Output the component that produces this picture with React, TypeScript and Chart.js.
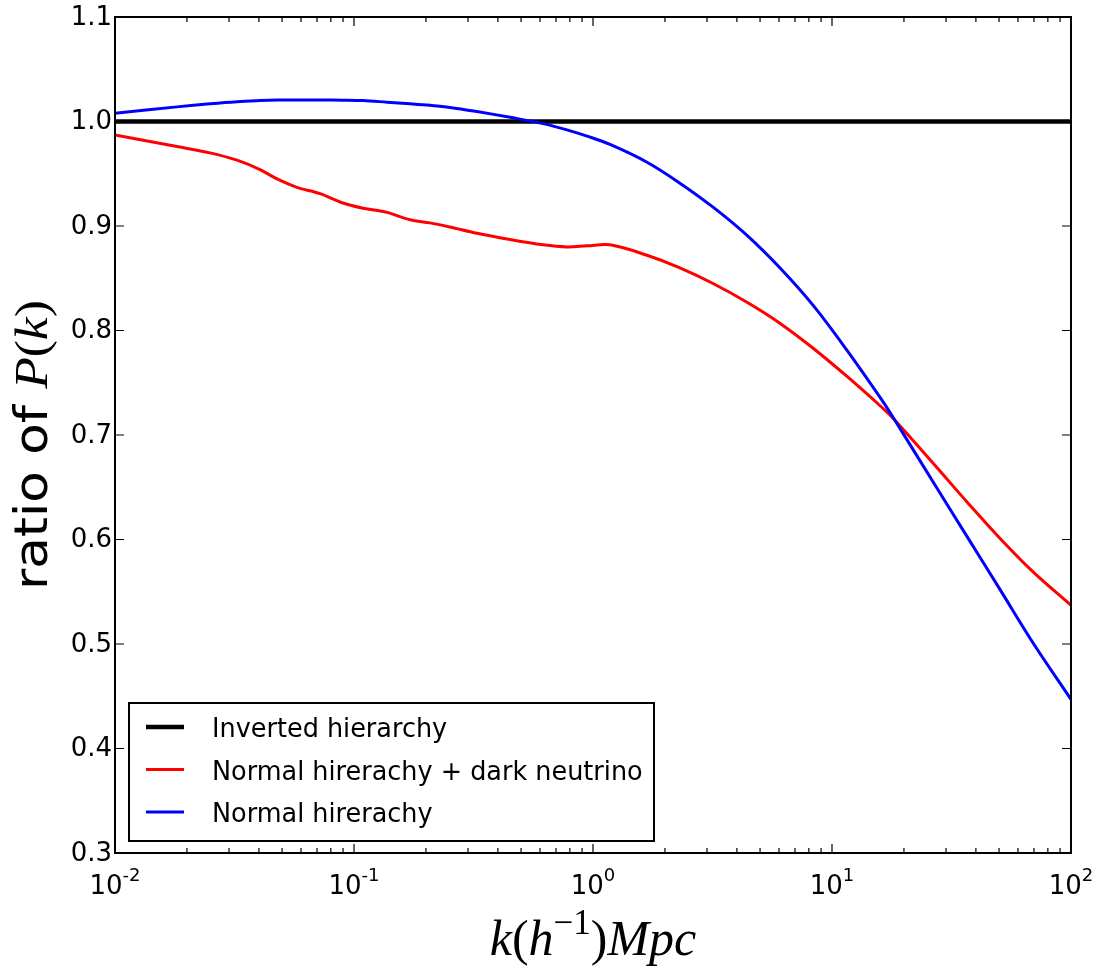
import React, { useEffect, useRef } from "react";
import { Chart, registerables } from "chart.js";

Chart.register(...registerables);

// ---------------- data ----------------
const kValues = [
  0.01, 0.01816, 0.02497, 0.03239, 0.04045, 0.04766, 0.0577, 0.0721, 0.0899,
  0.1091, 0.1374, 0.1715, 0.208, 0.252, 0.327, 0.45, 0.618, 0.778, 0.944,
  1.178, 1.683, 2.31, 3.18, 4.41, 6.05, 8.34, 11.56, 15.89, 18.0, 26.5, 36.7,
  50.5, 69.4, 100,
];

const normalDarkRatio = [
  0.987, 0.976, 0.97, 0.963, 0.954, 0.945, 0.937, 0.931, 0.922, 0.917, 0.913,
  0.906, 0.903, 0.899, 0.893, 0.887, 0.882, 0.88, 0.881, 0.882, 0.872, 0.86,
  0.845, 0.827, 0.807, 0.783, 0.756, 0.728, 0.716, 0.673, 0.636, 0.601, 0.569,
  0.537,
];

const normalRatio = [
  1.008, 1.014, 1.017, 1.019, 1.02, 1.0205, 1.0206, 1.0206, 1.0204, 1.02,
  1.0185, 1.017, 1.0155, 1.0135, 1.0095, 1.004, 0.998, 0.992, 0.986, 0.978,
  0.961, 0.941, 0.918, 0.891, 0.86, 0.824, 0.781, 0.736, 0.717, 0.655, 0.603,
  0.552, 0.501, 0.447,
];

const invertedK = [0.01, 100];
const invertedRatio = [1.0, 1.0];

const seriesLabels = [
  "Inverted hierarchy",
  "Normal hirerachy + dark neutrino",
  "Normal hirerachy",
];

const yTickValues = [0.3, 0.4, 0.5, 0.6, 0.7, 0.8, 0.9, 1.0, 1.1];
const yTickLabels = ["0.3", "0.4", "0.5", "0.6", "0.7", "0.8", "0.9", "1.0", "1.1"];
const xTickExponents = [-2, -1, 0, 1, 2];
const xTickExponentLabels = ["-2", "-1", "0", "1", "2"];

// ---------------- drawing helpers ----------------
const SANS = '"DejaVu Sans", sans-serif';
const SERIF = '"Liberation Serif", "DejaVu Serif", serif';

type Seg = { t: string; italic: boolean; size: number; rise: number };

function segWidth(ctx: CanvasRenderingContext2D, segs: Seg[]) {
  let w = 0;
  for (const s of segs) {
    ctx.font = `${s.italic ? "italic " : ""}${s.size}px ${SERIF}`;
    w += ctx.measureText(s.t).width;
  }
  return w;
}

function drawSegs(ctx: CanvasRenderingContext2D, segs: Seg[], x: number, y: number) {
  let cx = x;
  for (const s of segs) {
    ctx.font = `${s.italic ? "italic " : ""}${s.size}px ${SERIF}`;
    ctx.fillText(s.t, cx, y - s.rise);
    cx += ctx.measureText(s.t).width;
  }
}

const decorPlugin = {
  id: "decor",
  afterDraw(chart: any) {
    const ctx: CanvasRenderingContext2D = chart.ctx;
    const { left, right, top, bottom } = chart.chartArea;
    const xs = chart.scales.x;
    const ys = chart.scales.y;
    ctx.save();
    ctx.fillStyle = "#000";
    ctx.strokeStyle = "#000";

    // inward ticks
    ctx.lineWidth = 1.2;
    ctx.beginPath();
    xTickExponents.forEach((e, i) => {
      const px = xs.getPixelForValue(Math.pow(10, e));
      ctx.moveTo(px, bottom);
      ctx.lineTo(px, bottom - 9);
      ctx.moveTo(px, top);
      ctx.lineTo(px, top + 9);
      if (i < xTickExponents.length - 1) {
        for (let m = 2; m <= 9; m++) {
          const mx = xs.getPixelForValue(m * Math.pow(10, e));
          ctx.moveTo(mx, bottom);
          ctx.lineTo(mx, bottom - 5);
          ctx.moveTo(mx, top);
          ctx.lineTo(mx, top + 5);
        }
      }
    });
    yTickValues.forEach((v) => {
      const py = ys.getPixelForValue(v);
      ctx.moveTo(left, py);
      ctx.lineTo(left + 9, py);
      ctx.moveTo(right, py);
      ctx.lineTo(right - 9, py);
    });
    ctx.stroke();

    // frame
    ctx.lineWidth = 2;
    ctx.strokeRect(left, top, right - left, bottom - top);

    // y tick labels
    ctx.font = `26px ${SANS}`;
    ctx.textAlign = "right";
    ctx.textBaseline = "middle";
    yTickValues.forEach((v, i) => {
      const py = ys.getPixelForValue(v);
      ctx.fillText(yTickLabels[i], left - 3, py + 1);
    });

    // x tick labels 10^e
    ctx.textAlign = "left";
    ctx.textBaseline = "alphabetic";
    xTickExponents.forEach((e, i) => {
      const px = xs.getPixelForValue(Math.pow(10, e));
      ctx.font = `26px ${SANS}`;
      const w1 = ctx.measureText("10").width;
      ctx.font = `18px ${SANS}`;
      const w2 = ctx.measureText(xTickExponentLabels[i]).width;
      const sx = px - (w1 + w2) / 2;
      ctx.font = `26px ${SANS}`;
      ctx.fillText("10", sx, 894);
      ctx.font = `18px ${SANS}`;
      ctx.fillText(xTickExponentLabels[i], sx + w1, 881);
    });

    // x axis title: k(h^{-1})Mpc
    const xt: Seg[] = [
      { t: "k", italic: true, size: 50, rise: 0 },
      { t: "(", italic: false, size: 50, rise: 0 },
      { t: "h", italic: true, size: 50, rise: 0 },
      { t: "\u22121", italic: false, size: 35, rise: 21 },
      { t: ")", italic: false, size: 50, rise: 0 },
      { t: "Mpc", italic: true, size: 50, rise: 0 },
    ];
    const xtw = segWidth(ctx, xt);
    const xcenter = (left + right) / 2;
    drawSegs(ctx, xt, xcenter - xtw / 2, 955);

    // y axis title: ratio of P(k)
    ctx.save();
    ctx.translate(47, 590);
    ctx.rotate(-Math.PI / 2);
    ctx.scale(1.12, 1);
    ctx.font = `46px ${SANS}`;
    ctx.fillText("ratio of ", 0, 0);
    const rw = ctx.measureText("ratio of ").width;
    const yt: Seg[] = [
      { t: "P", italic: true, size: 46, rise: 0 },
      { t: "(", italic: false, size: 46, rise: 0 },
      { t: "k", italic: true, size: 46, rise: 0 },
      { t: ")", italic: false, size: 46, rise: 0 },
    ];
    drawSegs(ctx, yt, rw, 0);
    ctx.restore();

    // legend
    const bx = 129, by = 703, bw = 525, bh = 138;
    ctx.fillStyle = "#fff";
    ctx.fillRect(bx, by, bw, bh);
    ctx.lineWidth = 2;
    ctx.strokeStyle = "#000";
    ctx.strokeRect(bx, by, bw, bh);
    const rowY = [727, 769.5, 812];
    chart.data.datasets.forEach((ds: any, i: number) => {
      const y = rowY[i];
      ctx.strokeStyle = ds.borderColor;
      ctx.lineWidth = ds.borderWidth;
      ctx.beginPath();
      ctx.moveTo(146, y);
      ctx.lineTo(184, y);
      ctx.stroke();
      ctx.fillStyle = "#000";
      ctx.save();
      ctx.translate(212, y + 10);
      ctx.scale(1, 1.06);
      ctx.font = `25.5px ${SANS}`;
      ctx.textAlign = "left";
      ctx.textBaseline = "alphabetic";
      ctx.fillText(ds.label, 0, 0);
      ctx.restore();
    });

    ctx.restore();
  },
};

export default function App() {
  const canvasRef = useRef<HTMLCanvasElement | null>(null);

  useEffect(() => {
    const canvas = canvasRef.current;
    if (!canvas) return;
    const chart = new Chart(canvas, {
      type: "line",
      data: {
        datasets: [
          {
            label: seriesLabels[0],
            data: invertedK.map((k, i) => ({ x: k, y: invertedRatio[i] })),
            borderColor: "#000000",
            borderWidth: 4.5,
            pointRadius: 0,
            order: 3,
          },
          {
            label: seriesLabels[1],
            data: kValues.map((k, i) => ({ x: k, y: normalDarkRatio[i] })),
            borderColor: "#ff0000",
            borderWidth: 3,
            pointRadius: 0,
            tension: 0.35,
            order: 2,
          },
          {
            label: seriesLabels[2],
            data: kValues.map((k, i) => ({ x: k, y: normalRatio[i] })),
            borderColor: "#0000ff",
            borderWidth: 3,
            pointRadius: 0,
            tension: 0.35,
            order: 1,
          },
        ],
      },
      options: {
        responsive: false,
        animation: false,
        events: [],
        layout: { padding: { left: 115, right: 26, top: 17, bottom: 117 } },
        scales: {
          x: { type: "logarithmic", min: 0.01, max: 100, display: false },
          y: { type: "linear", min: 0.3, max: 1.1, display: false },
        },
        plugins: {
          legend: { display: false },
          tooltip: { enabled: false },
        },
      },
      plugins: [decorPlugin],
    } as any);
    return () => chart.destroy();
  }, []);

  return (
    <div style={{ position: "absolute", left: 0, top: 0, width: 1097, height: 970, background: "#fff" }}>
      <canvas ref={canvasRef} width={1097} height={970} style={{ display: "block" }} />
    </div>
  );
}
